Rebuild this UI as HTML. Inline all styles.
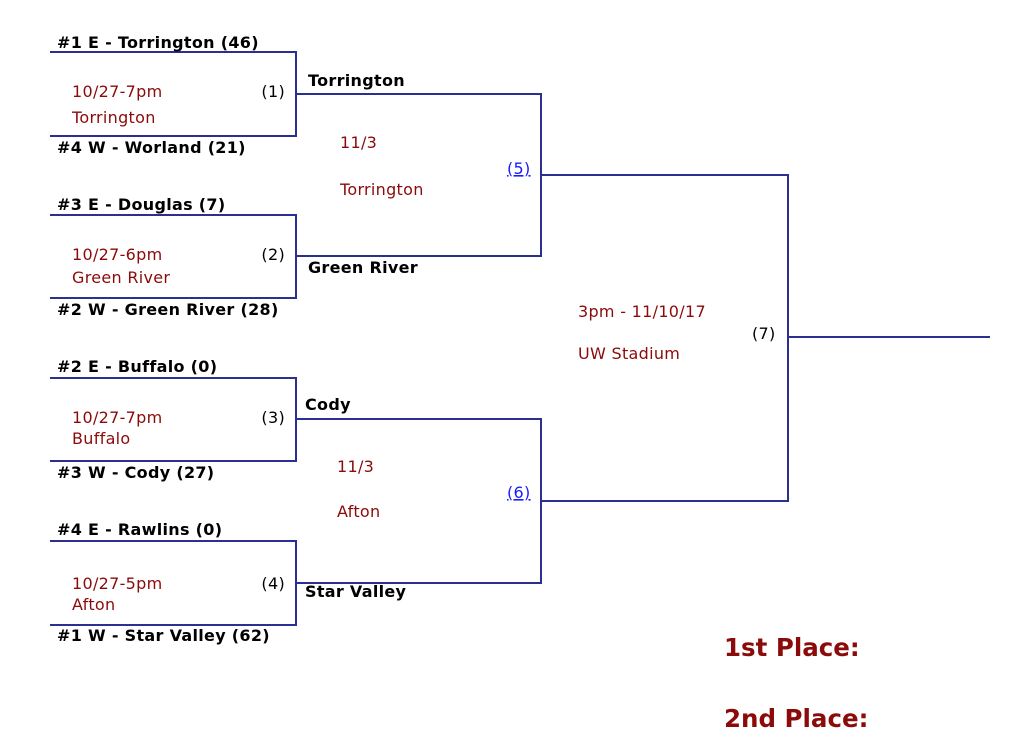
<!DOCTYPE html>
<html><head><meta charset="utf-8"><style>
html,body{margin:0;padding:0;background:#fff;}
svg{display:block}
text{font-family:"DejaVu Sans","Liberation Sans",sans-serif;font-size:16px;letter-spacing:0.3px}
.b{font-weight:bold;fill:#000}
.r{fill:#8b0a0a}
.k{fill:#000}
.l{fill:#1a1aff;text-decoration:underline}
</style></head><body>
<svg width="1024" height="746" viewBox="0 0 1024 746">
<g fill="none" stroke="#2b2f8f" stroke-width="2">
<polyline points="50,52 296,52 296,136 50,136"/>
<polyline points="50,215 296,215 296,298 50,298"/>
<polyline points="50,378 296,378 296,461 50,461"/>
<polyline points="50,541 296,541 296,625 50,625"/>
<polyline points="296,94 541,94 541,256 296,256"/>
<polyline points="296,419 541,419 541,583 296,583"/>
<polyline points="541,175 788,175 788,501 541,501"/>
<line x1="788" y1="337" x2="990" y2="337"/>
</g>
<text class="b" x="57" y="48">#1 E - Torrington (46)</text>
<text class="b" x="57" y="153">#4 W - Worland (21)</text>
<text class="b" x="57" y="210">#3 E - Douglas (7)</text>
<text class="b" x="57" y="315">#2 W - Green River (28)</text>
<text class="b" x="57" y="372">#2 E - Buffalo (0)</text>
<text class="b" x="57" y="478">#3 W - Cody (27)</text>
<text class="b" x="57" y="535">#4 E - Rawlins (0)</text>
<text class="b" x="57" y="641">#1 W - Star Valley (62)</text>
<text class="r" x="72" y="97">10/27-7pm</text>
<text class="r" x="72" y="123">Torrington</text>
<text class="r" x="72" y="260">10/27-6pm</text>
<text class="r" x="72" y="283">Green River</text>
<text class="r" x="72" y="423">10/27-7pm</text>
<text class="r" x="72" y="444">Buffalo</text>
<text class="r" x="72" y="589">10/27-5pm</text>
<text class="r" x="72" y="610">Afton</text>
<text class="k" x="285" y="97" text-anchor="end">(1)</text>
<text class="k" x="285" y="260" text-anchor="end">(2)</text>
<text class="k" x="285" y="423" text-anchor="end">(3)</text>
<text class="k" x="285" y="589" text-anchor="end">(4)</text>
<text class="b" x="308" y="86">Torrington</text>
<text class="b" x="308" y="273">Green River</text>
<text class="b" x="305" y="410">Cody</text>
<text class="b" x="305" y="597">Star Valley</text>
<text class="r" x="340" y="148">11/3</text>
<text class="r" x="340" y="195">Torrington</text>
<text class="r" x="337" y="472">11/3</text>
<text class="r" x="337" y="517">Afton</text>
<text class="l" x="507" y="174">(5)</text>
<text class="l" x="507" y="498">(6)</text>
<text class="r" x="578" y="317">3pm - 11/10/17</text>
<text class="r" x="578" y="359">UW Stadium</text>
<text class="k" x="752" y="339">(7)</text>
<text class="r" x="724" y="656" style="font-size:24.5px;font-weight:bold;letter-spacing:0">1st Place:</text>
<text class="r" x="724" y="727" style="font-size:24.5px;font-weight:bold;letter-spacing:0">2nd Place:</text>
</svg>
</body></html>
